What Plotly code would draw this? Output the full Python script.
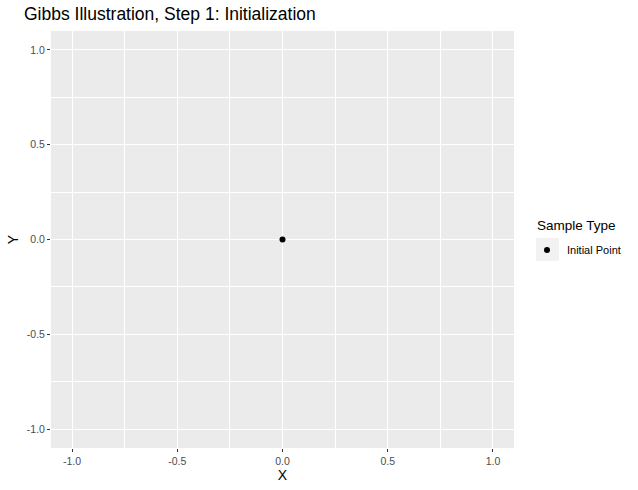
import plotly.graph_objects as go

x_vals = [0.0]
y_vals = [0.0]
series_name = "Initial Point"
tick_vals = [-1.0, -0.5, 0.0, 0.5, 1.0]
tick_text = ["-1.0", "-0.5", "0.0", "0.5", "1.0"]

FONT = "Liberation Sans, Arial, Helvetica, sans-serif"

PL, PR, PT, PB = 51, 514, 31, 448  # target panel edges
PW, PH = PR - PL, PB - PT

def px(x):
    return (x - PL) / PW

def py(y):
    return (PB - y) / PH

fig = go.Figure()
fig.add_trace(go.Scatter(
    x=x_vals, y=y_vals, mode="markers", name=series_name,
    marker=dict(color="black", size=6),
))

axis_common = dict(
    range=[-1.1, 1.1], tickvals=tick_vals, ticktext=tick_text,
    showgrid=True, gridcolor="white", gridwidth=1.1,
    minor=dict(showgrid=True, gridcolor="white", gridwidth=0.5, dtick=0.25),
    ticks="outside", ticklen=3, tickcolor="#333333", tickwidth=1,
    tickfont=dict(size=10.5, color="#4D4D4D", family=FONT),
    zeroline=False, showline=False, automargin=False,
)

# legend key background (ggplot style)
fig.add_shape(type="rect", xref="paper", yref="paper",
              x0=px(536), x1=px(559), y0=py(261), y1=py(238),
              fillcolor="#F2F2F2", line=dict(width=0), layer="below")

fig.add_annotation(text="Sample Type", xref="paper", yref="paper",
                   x=px(535), y=py(225), xanchor="left", yanchor="middle",
                   showarrow=False, font=dict(size=13.5, family=FONT, color="black"))

fig.update_layout(
    width=638, height=490,
    margin=dict(l=PL, r=638 - PR, t=PT, b=490 - PB),
    paper_bgcolor="white", plot_bgcolor="#EBEBEB",
    font=dict(family=FONT, color="black"),
    title=dict(text="Gibbs Illustration, Step 1: Initialization",
               x=24 / 638, xref="container", xanchor="left",
               y=1 - 14 / 490, yref="container", yanchor="middle",
               font=dict(size=17.5, color="black", family=FONT)),
    xaxis=dict(**axis_common, title=dict(text="X", font=dict(size=14, family=FONT), standoff=2)),
    yaxis=dict(**axis_common, title=dict(text="Y", font=dict(size=14, family=FONT), standoff=4)),
    showlegend=True,
    legend=dict(
        x=px(527), xanchor="left", y=py(250), yanchor="middle",
        font=dict(size=11, family=FONT), bgcolor="rgba(0,0,0,0)",
        itemsizing="trace", tracegroupgap=0,
    ),
)

fig.write_html("out.html", config={"displayModeBar": False},
               post_script="document.body.style.margin='0px';")
